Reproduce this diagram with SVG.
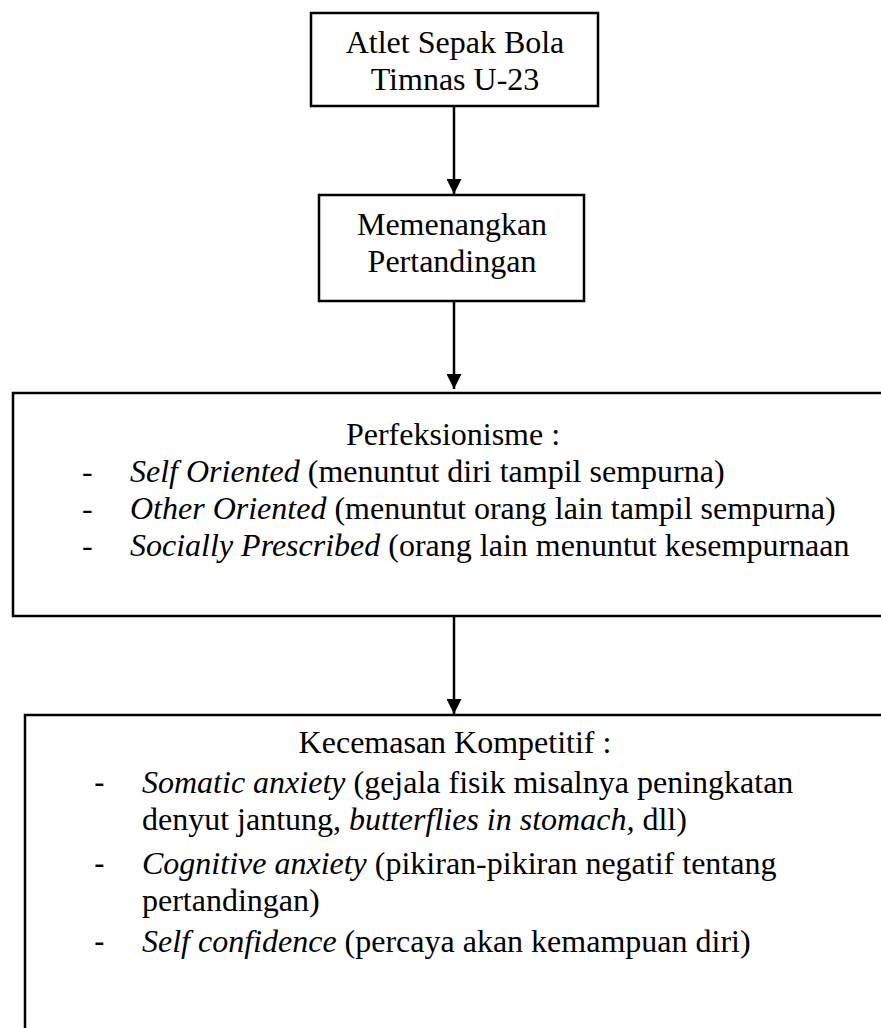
<svg xmlns="http://www.w3.org/2000/svg" width="881" height="1028" viewBox="0 0 881 1028">
<style>
.box{fill:#fff;stroke:#000;stroke-width:2.5}
.t{font-family:"Liberation Serif","Times New Roman",serif;font-size:32px;fill:#000}
.c{text-anchor:middle}
.i{font-style:italic}
.d{font-family:"Liberation Sans",Arial,sans-serif;font-size:32px;fill:#000}
.conn{stroke:#000;stroke-width:2.5;fill:none}
</style>
<defs>
<marker id="ah" viewBox="0 0 15 15" refX="15" refY="7.5" markerWidth="15" markerHeight="15" markerUnits="userSpaceOnUse" orient="auto">
<path d="M0,0 L15,7.5 L0,15 z" fill="#000"/>
</marker>
</defs>
<g id="n1">
<rect class="box" x="311" y="13" width="287" height="93"/>
<text class="t c" x="455" y="53">Atlet Sepak Bola</text>
<text class="t c" x="455" y="90">Timnas U-23</text>
</g>
<g id="n2">
<rect class="box" x="319" y="195" width="265" height="106"/>
<text class="t c" x="452" y="235">Memenangkan</text>
<text class="t c" x="452" y="272">Pertandingan</text>
</g>
<g id="n3">
<rect class="box" x="13" y="393" width="900" height="223"/>
<text class="t c" x="453" y="445">Perfeksionisme :</text>
<text class="t" x="82" y="482">-</text>
<text class="t" x="130" y="482"><tspan class="i">Self Oriented</tspan> (menuntut diri tampil sempurna)</text>
<text class="t" x="82" y="519">-</text>
<text class="t" x="130" y="519"><tspan class="i">Other Oriented</tspan> (menuntut orang lain tampil sempurna)</text>
<text class="t" x="82" y="556">-</text>
<text class="t" x="130" y="556"><tspan class="i">Socially Prescribed</tspan> (orang lain menuntut kesempurnaan</text>
</g>
<g id="n4">
<rect class="box" x="25" y="715" width="900" height="340"/>
<text class="t c" x="455" y="753">Kecemasan Kompetitif :</text>
<text class="d" x="94" y="793">-</text>
<text class="t" x="142" y="793"><tspan class="i">Somatic anxiety</tspan> (gejala fisik misalnya peningkatan</text>
<text class="t" x="142" y="830">denyut jantung, <tspan class="i">butterflies in stomach,</tspan> dll)</text>
<text class="d" x="94" y="874">-</text>
<text class="t" x="142" y="874"><tspan class="i">Cognitive anxiety</tspan> (pikiran-pikiran negatif tentang</text>
<text class="t" x="142" y="911">pertandingan)</text>
<text class="d" x="94" y="952">-</text>
<text class="t" x="142" y="952"><tspan class="i">Self confidence</tspan> (percaya akan kemampuan diri)</text>
</g>
<g id="connectors">
<path class="conn" d="M454,106 V194" marker-end="url(#ah)"/>
<path class="conn" d="M454,301 V389" marker-end="url(#ah)"/>
<path class="conn" d="M454,616 V714" marker-end="url(#ah)"/>
</g>
</svg>
